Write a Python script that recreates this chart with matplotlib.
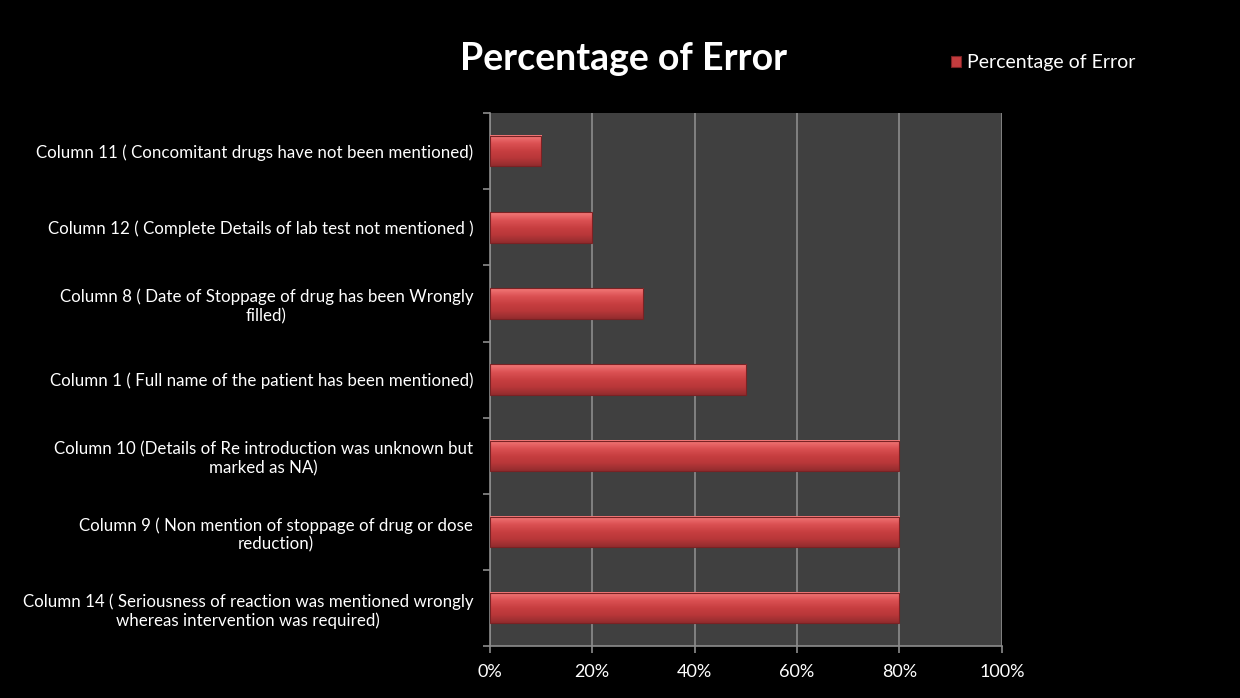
import matplotlib.pyplot as plt
import numpy as np
from matplotlib.colors import LinearSegmentedColormap

# categories listed bottom to top
labels = [
    "Column 14 ( Seriousness of reaction was mentioned wrongly\nwhereas intervention was required)",
    "Column 9 ( Non mention of stoppage of drug or dose\nreduction)",
    "Column 10 (Details of Re introduction was unknown but\nmarked as NA)",
    "Column 1 ( Full name of the patient has been mentioned)",
    "Column 8 ( Date of Stoppage of drug has been Wrongly\nfilled)",
    "Column 12 ( Complete Details of lab test not mentioned )",
    "Column 11 ( Concomitant drugs have not been mentioned)",
]
error_pct = [80, 80, 80, 50, 30, 20, 10]
x_ticks = [0, 20, 40, 60, 80, 100]

plt.rcParams['font.family'] = ['Lato', 'DejaVu Sans']

fig = plt.figure(figsize=(12.4, 6.98), dpi=100, facecolor='black')
ax = fig.add_axes([0.395, 0.074, 0.413, 0.764])
ax.set_facecolor('#404040')

y = np.arange(len(labels))
bars = ax.barh(y, error_pct, height=0.4, color='#c43c3e', zorder=3, label='Percentage of Error')

# fake the bevelled gradient look of the original
cmap = LinearSegmentedColormap.from_list('bevel', ['#f47a7a', '#dc5254', '#c83f41', '#b83739', '#922c2e'])
grad = np.linspace(0, 1, 64).reshape(-1, 1)
for rect in bars:
    x0, y0 = rect.get_xy()
    w, h = rect.get_width(), rect.get_height()
    ax.imshow(grad, extent=[x0, x0 + w, y0, y0 + h], origin='upper', aspect='auto', cmap=cmap, zorder=4)
    rect.set_facecolor('none')
    rect.set_edgecolor('#7a2224')
    rect.set_linewidth(0.8)
    rect.set_zorder(5)

ax.set_xlim(0, 100)
ax.set_ylim(-0.5, len(labels) - 0.5)
ax.set_xticks(x_ticks)
ax.set_xticklabels([str(t) + '%' for t in x_ticks])
ax.set_yticks(y)
ax.set_yticklabels(labels, multialignment='center')
ax.set_yticks(np.arange(len(labels) + 1) - 0.5, minor=True)

ax.grid(axis='x', color='#8c8c8c', linewidth=1.2, zorder=1)
ax.set_axisbelow(True)

for s in ['top', 'right']:
    ax.spines[s].set_visible(False)
ax.spines['left'].set_color('#8c8c8c')
ax.spines['bottom'].set_color('#8c8c8c')
ax.spines['left'].set_linewidth(1.2)
ax.spines['bottom'].set_linewidth(1.2)

ax.tick_params(axis='y', which='major', length=0, pad=12, labelsize=12.2, labelcolor='white')
ax.tick_params(axis='y', which='minor', length=5, color='#8c8c8c', width=1.2)
ax.tick_params(axis='x', length=5, color='#8c8c8c', width=1.2, labelsize=13, labelcolor='white', pad=8)

fig.text(0.503, 0.915, 'Percentage of Error', color='white', fontsize=27, fontweight='bold',
         ha='center', va='center')

leg = fig.legend(handles=[bars[0]], labels=['Percentage of Error'], loc='center left',
                 bbox_to_anchor=(0.753, 0.91), frameon=False, fontsize=14,
                 labelcolor='white', handlelength=0.5, handleheight=0.5, handletextpad=0.3)
leg.legend_handles[0].set_facecolor('#c43c3e')
leg.legend_handles[0].set_edgecolor('#7a2224')

plt.savefig('out.png', facecolor='black')
